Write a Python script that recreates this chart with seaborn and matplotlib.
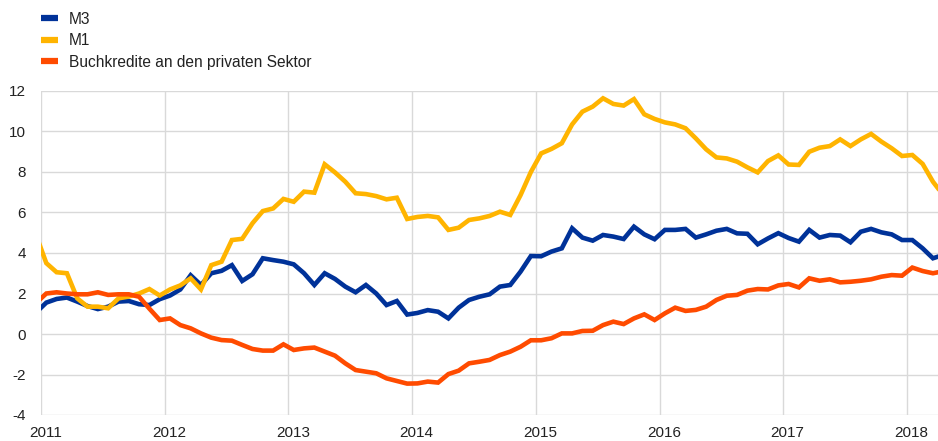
import numpy as np
import pandas as pd
import matplotlib
matplotlib.use("Agg")
import matplotlib.pyplot as plt
import seaborn as sns
from matplotlib.lines import Line2D

# Monthly annual growth rates (%), Dec 2010 .. Apr 2018 (edges partly clipped)
m3 = [1.06, 1.55, 1.73, 1.8, 1.6, 1.38, 1.23, 1.35, 1.6, 1.63, 1.47, 1.43,
      1.72, 1.9, 2.2, 2.9, 2.42, 3.0, 3.12, 3.4, 2.62, 2.95, 3.74, 3.65,
      3.57, 3.44, 3.0, 2.42, 3.0, 2.72, 2.34, 2.06, 2.42, 2.0, 1.43, 1.63,
      0.96, 1.04, 1.18, 1.1, 0.77, 1.3, 1.68, 1.84, 1.96, 2.34, 2.42, 3.08,
      3.85, 3.84, 4.07, 4.23, 5.22, 4.76, 4.61, 4.89, 4.81, 4.69, 5.3, 4.92,
      4.68, 5.14, 5.14, 5.19, 4.76, 4.92, 5.1, 5.19, 4.97, 4.95, 4.43, 4.72,
      4.98, 4.74, 4.56, 5.14, 4.76, 4.89, 4.86, 4.53, 5.05, 5.19, 5.02, 4.92,
      4.64, 4.64, 4.23, 3.74, 3.9]

m1 = [4.9, 3.5, 3.05, 3.0, 1.76, 1.35, 1.35, 1.27, 1.76, 1.85, 2.0, 2.22,
      1.9, 2.2, 2.4, 2.75, 2.2, 3.4, 3.57, 4.64, 4.7, 5.47, 6.07, 6.2,
      6.67, 6.53, 7.03, 6.98, 8.38, 7.98, 7.52, 6.95, 6.91, 6.81, 6.65, 6.73,
      5.68, 5.78, 5.83, 5.76, 5.14, 5.25, 5.63, 5.71, 5.83, 6.04, 5.88, 6.86,
      8.0, 8.92, 9.14, 9.42, 10.35, 10.98, 11.23, 11.64, 11.36, 11.28, 11.6, 10.85,
      10.62, 10.45, 10.35, 10.16, 9.66, 9.12, 8.72, 8.67, 8.51, 8.23, 7.98, 8.54,
      8.82, 8.37, 8.35, 9.0, 9.2, 9.28, 9.61, 9.28, 9.61, 9.88, 9.5, 9.17,
      8.79, 8.84, 8.4, 7.52, 6.86]

loans = [1.53, 2.0, 2.06, 2.0, 1.96, 1.96, 2.06, 1.93, 1.96, 1.96, 1.84, 1.25,
         0.69, 0.77, 0.44, 0.28, 0.03, -0.18, -0.3, -0.33, -0.54, -0.74, -0.82, -0.82,
         -0.51, -0.79, -0.71, -0.67, -0.87, -1.07, -1.45, -1.78, -1.86, -1.94, -2.19, -2.32,
         -2.45, -2.44, -2.35, -2.4, -1.98, -1.81, -1.45, -1.37, -1.28, -1.04, -0.87, -0.63,
         -0.31, -0.31, -0.21, 0.03, 0.03, 0.15, 0.16, 0.44, 0.61, 0.49, 0.77, 0.97,
         0.69, 1.02, 1.3, 1.14, 1.19, 1.35, 1.68, 1.89, 1.93, 2.14, 2.22, 2.2,
         2.4, 2.47, 2.3, 2.75, 2.63, 2.7, 2.55, 2.58, 2.63, 2.7, 2.83, 2.91,
         2.88, 3.28, 3.11, 3.0, 3.1]

series_names = ["M3", "M1", "Buchkredite an den privaten Sektor"]
series_colors = ["#003299", "#FFB400", "#FF4B00"]
year_labels = ["2011", "2012", "2013", "2014", "2015", "2016", "2017", "2018"]
y_ticks = [-4, -2, 0, 2, 4, 6, 8, 10, 12]

month_idx = np.arange(len(m3))
df = pd.DataFrame({"month": np.tile(month_idx, 3),
                   "value": m3 + m1 + loans,
                   "series": np.repeat(series_names, len(m3))})

sns.set_theme(style="white")
plt.rcParams["font.family"] = ["Liberation Sans", "DejaVu Sans"]

fig = plt.figure(figsize=(9.38, 4.41), dpi=100)
ax = fig.add_axes([41 / 938, 26 / 441, 897 / 938, 324 / 441])

sns.lineplot(data=df, x="month", y="value", hue="series", hue_order=series_names,
             palette=series_colors, linewidth=3.3, legend=False, ax=ax,
             solid_joinstyle="miter")

ax.set_xlim(0.485, 87.49)
ax.set_ylim(-4, 12)
ax.set_yticks(y_ticks)
ax.set_yticklabels([str(t) for t in y_ticks])
grid_pos = [0.485 + 12 * i for i in range(len(year_labels))]
ax.set_xticks(grid_pos)
ax.set_xticklabels([""] * len(grid_pos))
ax.set_xticks([p + 0.42 for p in grid_pos], minor=True)
ax.set_xticklabels(year_labels, minor=True)
ax.tick_params(axis="x", which="both", length=0, pad=8, labelsize=11, colors="#222222")
ax.tick_params(axis="y", length=0, pad=11, labelsize=11, colors="#222222")
ax.grid(True, which="major", color="#d9d9d9", linewidth=1.0)
ax.set_axisbelow(True)
for s in ax.spines.values():
    s.set_visible(False)
ax.set_xlabel("")
ax.set_ylabel("")

handles = [Line2D([0], [0], color=c, lw=4.5, solid_capstyle="butt") for c in series_colors]
fig.legend(handles, series_names, loc="upper left", bbox_to_anchor=(41 / 938, 1 - 11.5 / 441),
           frameon=False, fontsize=11.2, handlelength=1.08, handletextpad=0.7,
           labelspacing=0.42, borderpad=0.0, borderaxespad=0.0, labelcolor="#222222")

fig.savefig("out.png", dpi=100)
